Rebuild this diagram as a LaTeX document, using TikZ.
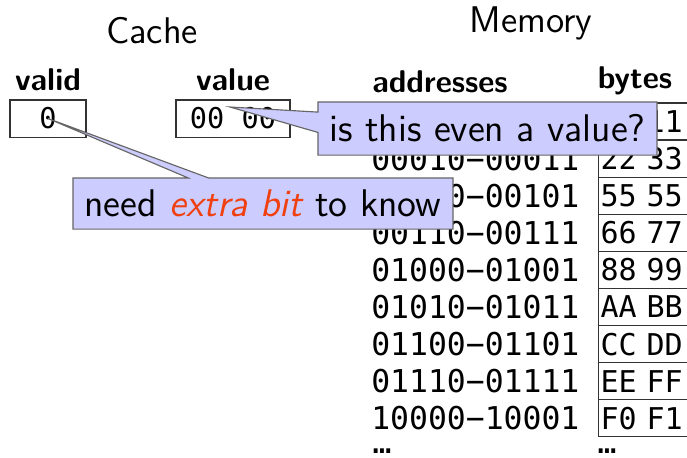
\documentclass[tikz,border=0pt]{standalone}
\usepackage{fontspec}
\setmonofont{DejaVu Sans Mono}
\renewcommand{\familydefault}{\sfdefault}
\usetikzlibrary{shapes.callouts}
\definecolor{alertRed}{RGB}{240,64,16}

\begin{document}
\begin{tikzpicture}[x=0.35pt,y=-0.35pt]
\tikzstyle{title}=[anchor=base,font=\fontsize{13}{15}\selectfont]
\tikzstyle{colHead}=[anchor=base,font=\fontsize{11}{13}\selectfont\bfseries]
\tikzstyle{cacheBox}=[rectangle,draw=black!80,minimum height=13pt,inner sep=0pt,font=\fontsize{10}{12}\selectfont\ttfamily]
\tikzstyle{addr}=[anchor=east,inner sep=0pt,font=\fontsize{11}{13}\selectfont\ttfamily]
\tikzstyle{byteCell}=[rectangle,draw=black!80,anchor=west,minimum height=13pt,text width=40pt,inner xsep=0.7pt,inner ysep=0pt,font=\fontsize{10.5}{12}\selectfont\ttfamily]
\tikzstyle{note}=[rectangle callout,draw=black!60,fill=blue!20,inner sep=0pt,font=\fontsize{13.5}{16}\selectfont]

\useasboundingbox (0,0) rectangle (687,457);

\node[title] (cache)  at (152,43) {Cache};
\node[title] (memory) at (531,32) {Memory};

\node[colHead] (validHead) at (48,90)  {valid};
\node[colHead] (valueHead) at (233,90) {value};
\node[colHead] (addrHead)  at (440,92) {addresses};
\node[colHead] (bytesHead) at (635,88) {bytes};

\node[cacheBox,minimum width=26.6pt] (validBit) at (48,118.5)  {0};
\node[cacheBox,minimum width=39.9pt] (cacheVal) at (233,118.5) {00 00};

\node[addr] (addr0) at (580,121.5) {00000−00001};
\node[addr] (addr1) at (580,158.6) {00010−00011};
\node[addr] (addr2) at (580,195.7) {00100−00101};
\node[addr] (addr3) at (580,232.8) {00110−00111};
\node[addr] (addr4) at (580,269.9) {01000−01001};
\node[addr] (addr5) at (580,307.0) {01010−01011};
\node[addr] (addr6) at (580,344.1) {01100−01101};
\node[addr] (addr7) at (580,381.2) {01110−01111};
\node[addr] (addr8) at (580,418.3) {10000−10001};
\node[addr,anchor=base west] (addrMore) at (372,453) {…};

\node[byteCell] (byte0) at (598,121.5) {00 11};
\node[byteCell] (byte1) at (598,158.6) {22 33};
\node[byteCell] (byte2) at (598,195.7) {55 55};
\node[byteCell] (byte3) at (598,232.8) {66 77};
\node[byteCell] (byte4) at (598,269.9) {88 99};
\node[byteCell] (byte5) at (598,307.0) {AA BB};
\node[byteCell] (byte6) at (598,344.1) {CC DD};
\node[byteCell] (byte7) at (598,381.2) {EE FF};
\node[byteCell] (byte8) at (598,418.3) {F0 F1};
\node[addr,anchor=base west] (byteMore) at (597,453) {…};

% callouts on top
\node[note,minimum width=118.7pt,minimum height=18.6pt,callout absolute pointer={(230,107)}] (valueNote) at (487.5,128.5) {is this even a value?};
\node[note,minimum width=133pt,minimum height=17.9pt,callout absolute pointer={(validBit.center)}] (validNote) at (263,203.5) {need \textit{\color{alertRed}extra bit} to know};

\end{tikzpicture}
\end{document}
